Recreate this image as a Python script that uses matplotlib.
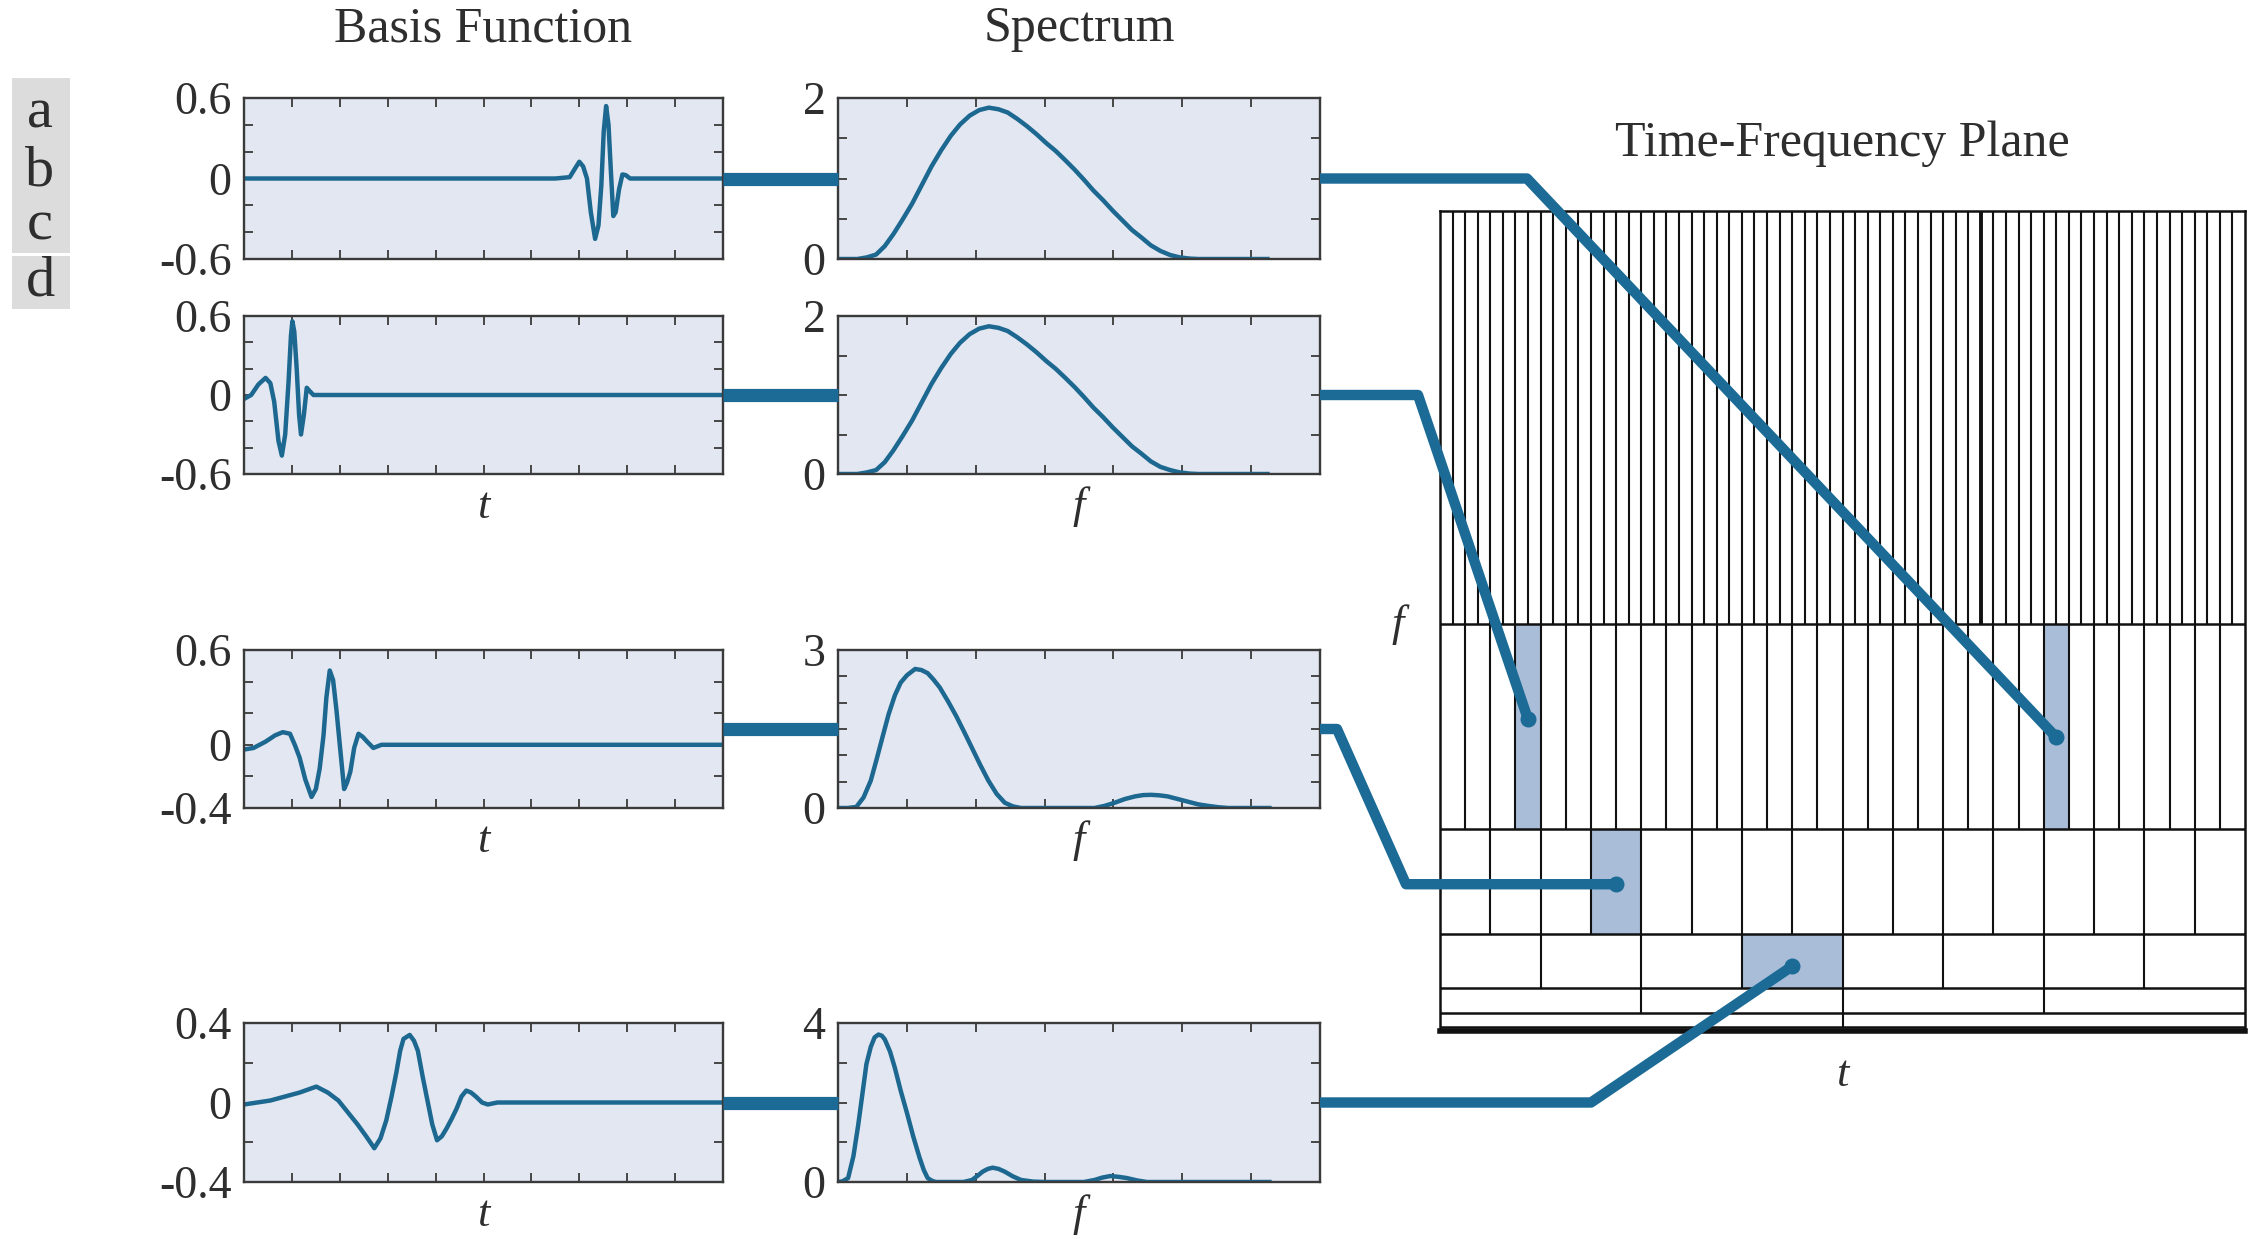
import numpy as np
import matplotlib.pyplot as plt
from matplotlib.patches import Rectangle

plt.rcParams['font.family'] = ['Liberation Serif', 'DejaVu Serif']

W, H = 2254, 1239

# --- basis functions (t in [0, 1]) ---
basis_a_t = [0, 0.650, 0.680, 0.692, 0.700, 0.708, 0.716, 0.724, 0.733, 0.740, 0.746,
             0.751, 0.756, 0.761, 0.766, 0.771, 0.776, 0.783, 0.790, 0.797, 0.806, 1.0]
basis_a_v = [0, 0, 0.01, 0.08, 0.125, 0.09, 0.0, -0.25, -0.45, -0.35, -0.05,
             0.35, 0.54, 0.40, 0.05, -0.28, -0.25, -0.08, 0.03, 0.025, 0, 0]

basis_b_t = [0, 0.015, 0.030, 0.045, 0.055, 0.063, 0.072, 0.079, 0.086, 0.093, 0.098,
             0.101, 0.105, 0.110, 0.115, 0.119, 0.125, 0.131, 0.137, 0.145, 1.0]
basis_b_v = [-0.03, 0.0, 0.08, 0.13, 0.09, -0.05, -0.35, -0.46, -0.30, 0.10, 0.45,
             0.56, 0.48, 0.20, -0.15, -0.30, -0.15, 0.055, 0.03, 0, 0]

basis_c_t = [0, 0.020, 0.045, 0.065, 0.081, 0.096, 0.106, 0.116, 0.128, 0.141, 0.150,
             0.158, 0.166, 0.172, 0.179, 0.186, 0.193, 0.200, 0.209, 0.215, 0.222,
             0.230, 0.239, 0.248, 0.257, 0.270, 0.287, 1.0]
basis_c_v = [-0.03, -0.02, 0.02, 0.06, 0.08, 0.07, 0.0, -0.08, -0.22, -0.33, -0.28,
             -0.15, 0.06, 0.30, 0.47, 0.41, 0.22, 0.0, -0.28, -0.24, -0.17,
             -0.02, 0.07, 0.05, 0.02, -0.02, 0, 0]

basis_d_t = [0, 0.055, 0.116, 0.151, 0.175, 0.197, 0.217, 0.237, 0.255, 0.272, 0.285,
             0.297, 0.308, 0.318, 0.326, 0.333, 0.346, 0.355, 0.363, 0.373, 0.383,
             0.393, 0.403, 0.413, 0.423, 0.434, 0.444, 0.454, 0.464, 0.474, 0.484,
             0.497, 0.509, 0.529, 1.0]
basis_d_v = [-0.01, 0.01, 0.05, 0.08, 0.05, 0.01, -0.05, -0.11, -0.17, -0.23, -0.18,
             -0.09, 0.03, 0.15, 0.26, 0.32, 0.34, 0.31, 0.26, 0.13, 0.01,
             -0.11, -0.19, -0.17, -0.13, -0.08, -0.03, 0.03, 0.06, 0.05, 0.03,
             0.0, -0.01, 0, 0]

# --- spectra (f in [0, 1]) ---
spec_a_f = [0, 0.040, 0.060, 0.079, 0.097, 0.115, 0.134, 0.154, 0.174, 0.194, 0.214,
            0.234, 0.253, 0.273, 0.293, 0.313, 0.333, 0.352, 0.372, 0.392, 0.412,
            0.432, 0.452, 0.471, 0.491, 0.511, 0.530, 0.550, 0.570, 0.590, 0.610,
            0.629, 0.649, 0.669, 0.689, 0.709, 0.730, 0.748, 0.891]
spec_a_v = [0, 0.0, 0.02, 0.055, 0.16, 0.31, 0.49, 0.69, 0.92, 1.15, 1.35,
            1.53, 1.67, 1.78, 1.85, 1.88, 1.86, 1.82, 1.74, 1.65, 1.55,
            1.44, 1.34, 1.23, 1.11, 0.98, 0.85, 0.73, 0.60, 0.48, 0.36,
            0.27, 0.17, 0.10, 0.05, 0.02, 0.005, 0.0, 0.0]
spec_b_f = spec_a_f
spec_b_v = [0, 0.0, 0.02, 0.05, 0.15, 0.30, 0.48, 0.68, 0.91, 1.14, 1.34,
            1.52, 1.66, 1.77, 1.84, 1.87, 1.85, 1.81, 1.73, 1.64, 1.54,
            1.43, 1.33, 1.22, 1.10, 0.97, 0.84, 0.72, 0.59, 0.47, 0.35,
            0.26, 0.16, 0.09, 0.05, 0.02, 0.005, 0.0, 0.0]

spec_c_f = [0, 0.020, 0.038, 0.053, 0.068, 0.080, 0.093, 0.105, 0.118, 0.130, 0.143,
            0.160, 0.173, 0.186, 0.198, 0.211, 0.228, 0.245, 0.262, 0.278, 0.295,
            0.312, 0.329, 0.346, 0.363, 0.380, 0.532, 0.553, 0.574, 0.595, 0.616,
            0.633, 0.650, 0.667, 0.684, 0.705, 0.726, 0.747, 0.768, 0.789, 0.810, 0.895]
spec_c_v = [0, 0.0, 0.02, 0.20, 0.52, 0.92, 1.37, 1.78, 2.14, 2.38, 2.52,
            2.64, 2.62, 2.56, 2.44, 2.29, 2.03, 1.75, 1.44, 1.14, 0.82,
            0.52, 0.27, 0.10, 0.03, 0.0, 0.0, 0.04, 0.10, 0.17, 0.22,
            0.245, 0.25, 0.24, 0.22, 0.17, 0.12, 0.07, 0.04, 0.015, 0.0, 0.0]

spec_d_f = [0, 0.010, 0.021, 0.032, 0.042, 0.051, 0.059, 0.068, 0.076, 0.084, 0.091,
            0.097, 0.108, 0.118, 0.130, 0.143, 0.156, 0.169, 0.178, 0.186, 0.195,
            0.203, 0.260, 0.278, 0.290, 0.300, 0.311, 0.321, 0.333, 0.346, 0.363,
            0.380, 0.405, 0.430, 0.510, 0.532, 0.548, 0.565, 0.582, 0.599, 0.620,
            0.641, 0.895]
spec_d_v = [0, 0.02, 0.10, 0.65, 1.44, 2.25, 2.97, 3.40, 3.64, 3.71, 3.68,
            3.59, 3.28, 2.87, 2.30, 1.74, 1.15, 0.62, 0.30, 0.10, 0.03,
            0.0, 0.0, 0.05, 0.16, 0.26, 0.33, 0.36, 0.33, 0.26, 0.14,
            0.05, 0.01, 0.0, 0.0, 0.05, 0.11, 0.15, 0.13, 0.10, 0.04,
            0.0, 0.0]

# y ranges and labelled ticks of each row
basis_ylim = [(-0.6, 0.6), (-0.6, 0.6), (-0.4, 0.6), (-0.4, 0.4)]
basis_ylabels = [["-0.6", "0", "0.6"], ["-0.6", "0", "0.6"], ["-0.4", "0", "0.6"], ["-0.4", "0", "0.4"]]
spec_ylim = [(0, 2), (0, 2), (0, 3), (0, 4)]
spec_ystep = [0.5, 0.5, 0.5, 1.0]

# --- time-frequency tiling: band edges in f and columns per band ---
tf_f_edges = [0.0, 0.005, 0.022, 0.052, 0.118, 0.246, 0.496, 1.0]
tf_ncols = [1, 2, 4, 8, 16, 32, 64]
tf_heavy = (6, 43)   # slightly heavier line in the top band
# highlighted tile (band, column) and connector end height for rows a-d
tf_targets = [(5, 24, 0.358), (5, 3, 0.380), (4, 3, 0.179), (3, 3, 0.079)]
# connector bends in figure pixels: (x, 's'=start level / 'e'=end level)
conn_bends = [[(1527, 's')], [(1418, 's')], [(1337, 's'), (1406, 'e')], [(1591, 's')]]

BG = '#e2e7f1'
CURVE = '#1d6890'
CONN = '#1b6b96'
SHADE = '#a9bdd8'
EDGE = '#3a3a3a'
GRID = '#111111'
TXT = '#2e2e2e'

fig = plt.figure(figsize=(W / 100, H / 100), dpi=100)


def px_axes(x0, y0, x1, y1):
    return fig.add_axes([x0 / W, 1 - y1 / H, (x1 - x0) / W, (y1 - y0) / H])


rows_y = [(98, 259), (316, 474), (650, 808), (1023, 1182)]
basis = [(basis_a_t, basis_a_v), (basis_b_t, basis_b_v), (basis_c_t, basis_c_v), (basis_d_t, basis_d_v)]
spectra = [(spec_a_f, spec_a_v), (spec_b_f, spec_b_v), (spec_c_f, spec_c_v), (spec_d_f, spec_d_v)]

basis_axes, spec_axes = [], []
for i, (y0, y1) in enumerate(rows_y):
    ab = px_axes(244, y0, 723, y1)
    asp = px_axes(838, y0, 1320, y1)
    for ax in (ab, asp):
        ax.set_facecolor(BG)
        for s in ax.spines.values():
            s.set_color(EDGE)
            s.set_linewidth(1.7)
        ax.tick_params(direction='in', length=6.5, width=1.3, color=EDGE, top=True, right=True,
                       labelsize=33, pad=9, labelcolor=TXT)
    t, v = basis[i]
    ab.plot(t, v, color=CURVE, lw=3.2, solid_joinstyle='round')
    lo, hi = basis_ylim[i]
    ab.set_xlim(0, 1)
    ab.set_ylim(lo, hi)
    ab.set_xticks(np.linspace(0, 1, 11))
    ab.set_xticklabels([])
    yt = np.round(np.arange(lo, hi + 1e-9, 0.2), 2)
    ab.set_yticks(yt)
    labs = basis_ylabels[i]
    ab.set_yticklabels([labs[0] if k == 0 else labs[1] if abs(y) < 1e-9 else labs[2] if k == len(yt) - 1 else ''
                        for k, y in enumerate(yt)])

    f, s = spectra[i]
    asp.plot(f, s, color=CURVE, lw=3.2, solid_joinstyle='round')
    slo, shi = spec_ylim[i]
    asp.set_xlim(0, 1)
    asp.set_ylim(slo, shi)
    asp.set_xticks(np.linspace(0, 1, 8))
    asp.set_xticklabels([])
    syt = np.arange(slo, shi + 1e-9, spec_ystep[i])
    asp.set_yticks(syt)
    asp.set_yticklabels([f"{y:g}" if k in (0, len(syt) - 1) else '' for k, y in enumerate(syt)])

    if i > 0:
        ab.set_xlabel('t', fontstyle='italic', fontsize=32, labelpad=0, color=TXT)
        asp.set_xlabel('f', fontstyle='italic', fontsize=32, labelpad=0, color=TXT)
    basis_axes.append(ab)
    spec_axes.append(asp)

basis_axes[0].text(0.5, 1.43, 'Basis Function', transform=basis_axes[0].transAxes,
                   ha='center', va='center', fontsize=36, color=TXT)
spec_axes[0].text(0.5, 1.43, 'Spectrum', transform=spec_axes[0].transAxes,
                  ha='center', va='center', fontsize=36, color=TXT)

# --- time-frequency plane ---
atf = px_axes(1440, 211, 2245, 1031)
atf.set_xlim(0, 1)
atf.set_ylim(0, 1)
atf.set_xticks([])
atf.set_yticks([])
for s in atf.spines.values():
    s.set_color(GRID)
    s.set_linewidth(1.8)
atf.spines['bottom'].set_linewidth(4)
for b, c, _ in tf_targets:
    n = tf_ncols[b]
    atf.add_patch(Rectangle((c / n, tf_f_edges[b]), 1 / n, tf_f_edges[b + 1] - tf_f_edges[b],
                            facecolor=SHADE, edgecolor='none', zorder=1))
for b, n in enumerate(tf_ncols):
    xs = np.arange(1, n) / n
    atf.vlines(xs, tf_f_edges[b], tf_f_edges[b + 1], color=GRID, lw=1.5, zorder=2)
hb, hc = tf_heavy
atf.vlines(hc / tf_ncols[hb], tf_f_edges[hb], tf_f_edges[hb + 1], color=GRID, lw=2.8, zorder=2)
atf.hlines(tf_f_edges[1:-1], 0, 1, color=GRID, lw=1.8, zorder=2)
atf.text(0.5, 1.082, 'Time-Frequency Plane', transform=atf.transAxes, ha='center', va='center',
         fontsize=36, color=TXT)
atf.text(-0.053, 0.495, 'f', transform=atf.transAxes, ha='center', va='center',
         fontstyle='italic', fontsize=32, color=TXT)
atf.text(0.5, -0.054, 't', transform=atf.transAxes, ha='center', va='center',
         fontstyle='italic', fontsize=32, color=TXT)

# --- row letters ---
ov = fig.add_axes([0, 0, 1, 1], zorder=10)
ov.set_xlim(0, W)
ov.set_ylim(H, 0)
ov.axis('off')
ov.patch.set_alpha(0)
ov.add_patch(Rectangle((12, 78), 58, 175, facecolor='#dcdcdc', edgecolor='none'))
ov.add_patch(Rectangle((12, 256), 58, 53, facecolor='#dcdcdc', edgecolor='none'))
for letter, yb in zip('abcd', [128, 185, 240, 295]):
    ov.text(40, yb, letter, ha='center', va='baseline', fontsize=42, color=TXT)


def to_ov(ax, xy, trans='axes'):
    tr = ax.transAxes if trans == 'axes' else ax.transData
    return ov.transData.inverted().transform(tr.transform(xy))


# --- connectors ---
for i in range(4):
    p0 = to_ov(basis_axes[i], (1, 0.5))
    p1 = to_ov(spec_axes[i], (0, 0.5))
    ov.plot([p0[0], p1[0]], [p0[1], p1[1]], color=CONN, lw=9.5, solid_capstyle='butt')

    s = to_ov(spec_axes[i], (1, 0.5))
    b, c, fe = tf_targets[i]
    n = tf_ncols[b]
    e = to_ov(atf, ((c + 0.5) / n, fe), trans='data')
    xs, ys = [s[0]], [s[1]]
    for bx, lvl in conn_bends[i]:
        xs.append(bx)
        ys.append(s[1] if lvl == 's' else e[1])
    xs.append(e[0])
    ys.append(e[1])
    ov.plot(xs, ys, color=CONN, lw=7.5, solid_capstyle='butt', solid_joinstyle='round')
    ov.plot([e[0]], [e[1]], 'o', color=CONN, ms=10.5)

fig.savefig('out.png', dpi=100, facecolor='white')
